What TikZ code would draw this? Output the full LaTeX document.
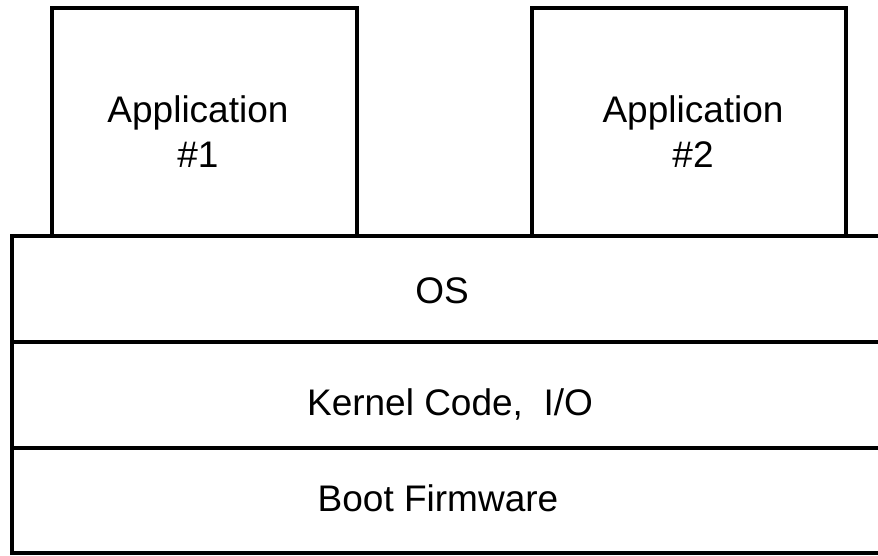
\documentclass[tikz,border=0pt]{standalone}
\usepackage{fontspec}
\setmainfont{Liberation Sans}
\begin{document}
\begin{tikzpicture}[x=1pt,y=-1pt,
  layer/.style={draw=black, line width=4.5pt, rectangle, inner sep=0pt},
  txt/.style={inner sep=0pt, anchor=base, font=\fontsize{37}{44}\selectfont}]
\useasboundingbox (0,0) rectangle (878,556);
% application boxes
\node[layer, minimum width=305pt, minimum height=228pt] (app1) at (204.5,122) {};
\node[layer, minimum width=314pt, minimum height=228pt] (app2) at (689,122) {};
% stacked layers
\node[layer, minimum width=868pt, minimum height=106pt] (os) at (446,289) {};
\node[layer, minimum width=868pt, minimum height=106pt] (kernel) at (446,395) {};
\node[layer, minimum width=868pt, minimum height=105pt] (boot) at (446,500.5) {};
% texts
\node[txt] (app1a) at (198,123) {Application};
\node[txt] (app1b) at (198,168) {\#1};
\node[txt] (app2a) at (693,123) {Application};
\node[txt] (app2b) at (693,168) {\#2};
\node[txt] (ost) at (442,303) {OS};
\node[txt] (kernelt) at (450,415) {Kernel Code,\ \ I/O};
\node[txt] (boott) at (438,511) {Boot Firmware};
\end{tikzpicture}
\end{document}
